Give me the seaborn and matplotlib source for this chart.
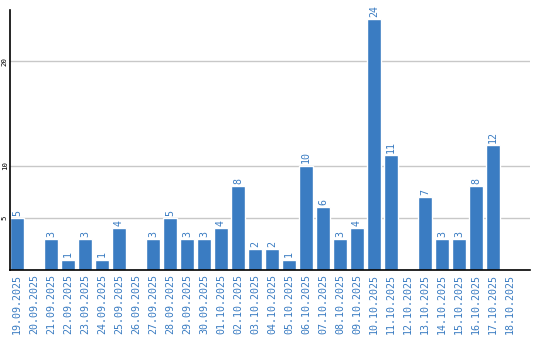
import matplotlib
matplotlib.use("Agg")
import matplotlib.pyplot as plt
import seaborn as sns
import pandas as pd

dates = ["19.09.2025", "20.09.2025", "21.09.2025", "22.09.2025", "23.09.2025",
         "24.09.2025", "25.09.2025", "26.09.2025", "27.09.2025", "28.09.2025",
         "29.09.2025", "30.09.2025", "01.10.2025", "02.10.2025", "03.10.2025",
         "04.10.2025", "05.10.2025", "06.10.2025", "07.10.2025", "08.10.2025",
         "09.10.2025", "10.10.2025", "11.10.2025", "12.10.2025", "13.10.2025",
         "14.10.2025", "15.10.2025", "16.10.2025", "17.10.2025", "18.10.2025"]
values = [5, 0, 3, 1, 3, 1, 4, 0, 3, 5, 3, 3, 4, 8, 2, 2, 1, 10, 6, 3, 4, 24, 11, 0, 7, 3, 3, 8, 12, 0]
y_ticks = [5, 10, 20]

BLUE = "#3a7cc2"
sns.set_theme(style="white")
plt.rcParams["font.family"] = ["DejaVu Sans Mono", "DejaVu Sans"]

df = pd.DataFrame({"date": dates, "value": values})
fig = plt.figure(figsize=(5.4, 3.4), dpi=100)
ax = fig.add_axes([10/540, 70/340, 520/540, 260/340])
sns.barplot(data=df, x="date", y="value", color=BLUE, saturation=1, width=0.82, ax=ax)

ax.set_xlim(-0.41, 30.18)
ax.set_ylim(0, 24.9)
ax.set_yticks(y_ticks)
ax.set_yticklabels([str(t) for t in y_ticks], rotation=90, va="center", fontsize=5.3, color="black")
ax.tick_params(axis="y", length=0, pad=1.5)
ax.tick_params(axis="x", length=0, pad=3)
ax.set_xticks(range(len(dates)))
ax.set_xticklabels(dates, rotation=90, fontsize=7.2, color=BLUE)
ax.set_xlabel("")
ax.set_ylabel("")
for t in y_ticks:
    ax.axhline(t, color="#c8c8c8", lw=1, zorder=0)
ax.set_axisbelow(True)
for s in ["top", "right"]:
    ax.spines[s].set_visible(False)
for s in ["left", "bottom"]:
    ax.spines[s].set_color("black")
    ax.spines[s].set_linewidth(1.2)

for i, v in enumerate(values):
    if v > 0:
        ax.text(i, v + 0.2, str(v), rotation=90, ha="center", va="bottom",
                fontsize=7.2, color=BLUE)

fig.savefig("out.png", dpi=100)
